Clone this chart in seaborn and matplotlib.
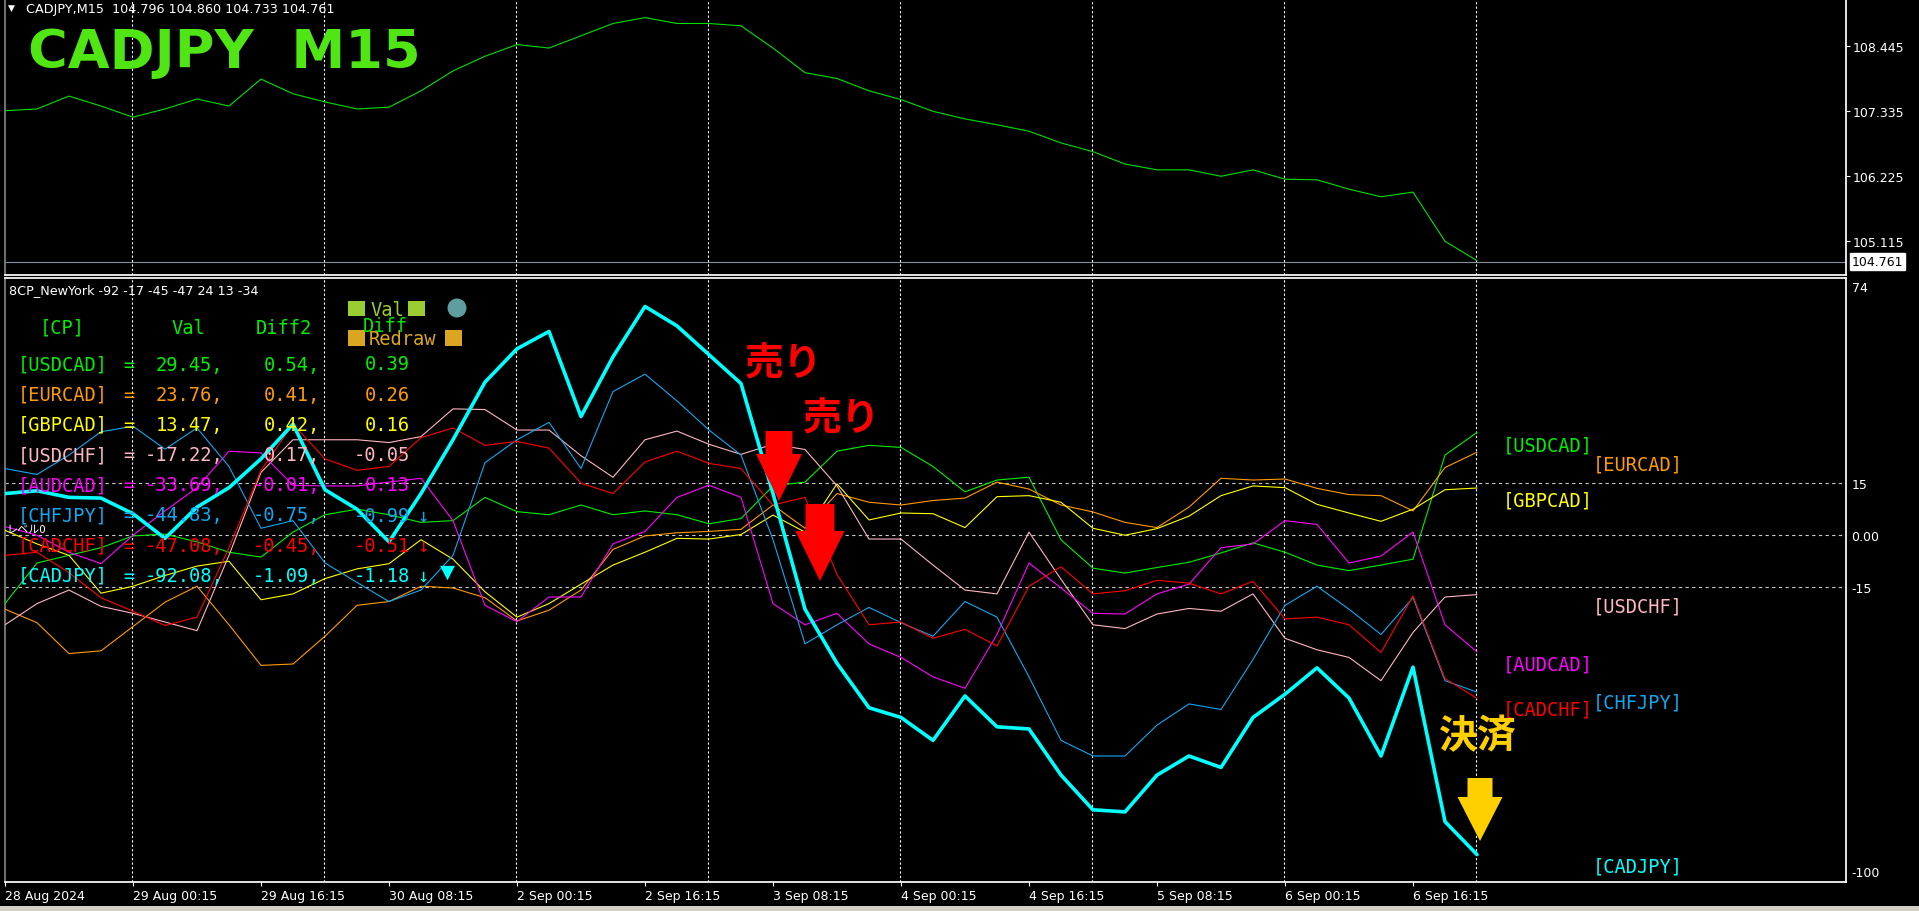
import pandas as pd
import seaborn as sns
import matplotlib.pyplot as plt
from matplotlib.patches import Polygon, Rectangle, Ellipse

W, H = 1919, 912

# M15 bars, one sample every 16 bars (4 hours)
bars = list(range(0, 737, 16))

price = [107.34, 107.37, 107.59, 107.42, 107.23, 107.37, 107.54, 107.42, 107.88, 107.63,
         107.49, 107.37, 107.40, 107.68, 108.02, 108.27, 108.47, 108.41, 108.62, 108.83,
         108.93, 108.83, 108.83, 108.79, 108.41, 107.99, 107.89, 107.68, 107.53, 107.33,
         107.20, 107.10, 106.99, 106.79, 106.64, 106.43, 106.33, 106.33, 106.22, 106.33,
         106.17, 106.16, 106.00, 105.87, 105.95, 105.11, 104.78]

usdcad = [-19.8, -8.1, -5.9, -3.7, -0.3, 0.2, -2.0, -5.0, -6.4, 0.8, 5.8, 7.4, 5.8, 3.6, 4.1, 10.8,
          6.7, 5.8, 8.6, 5.8, 6.9, 5.8, 3.2, 4.7, 14.1, 15.2, 24.1, 25.8, 25.2, 19.7, 12.4,
          15.8, 16.6, -1.4, -9.6, -11.0, -9.4, -7.9, -5.2, -2.3, -5.0, -8.7, -10.3, -8.7, -7.0, 23.0, 29.5]
eurcad = [-21.4, -25.3, -34.2, -33.4, -26.4, -19.4, -14.8, -25.9, -37.6, -37.2, -29.2, -20.3, -19.2, -14.8, -15.3, -18.1,
          -24.8, -21.7, -15.9, -4.2, -0.3, 0.6, 1.0, 1.6, 8.6, 1.9, 11.9, 9.4, 8.6, 9.9, 10.6,
          15.2, 13.2, 8.6, 6.6, 3.6, 2.1, 8.0, 16.3, 15.8, 16.1, 13.4, 11.6, 11.3, 6.9, 19.4, 23.8]
gbpcad = [1.3, -2.6, -5.9, -16.8, -14.8, -11.7, -9.0, -7.6, -18.7, -17.0, -12.6, -9.8, -8.3, -1.4, -7.0, -16.4,
          -23.7, -19.8, -14.2, -8.7, -5.0, -1.0, -1.2, 0.1, 5.7, 0.8, 14.7, 4.3, 6.3, 6.1, 2.1,
          11.0, 11.3, 9.4, 1.9, -0.1, 1.8, 5.4, 11.3, 14.1, 13.6, 8.8, 6.3, 3.9, 7.4, 13.0, 13.5]
usdchf = [-25.9, -19.8, -15.9, -20.6, -22.6, -25.1, -27.6, -5.9, 18.0, 27.4, 27.4, 27.4, 26.6, 28.3, 36.3, 36.1,
          30.2, 30.2, 22.8, 16.6, 27.4, 29.9, 26.1, 23.2, 26.1, 24.6, 14.1, -1.2, -1.2, -8.7, -15.9,
          -17.0, 0.8, -12.8, -25.9, -27.0, -22.8, -21.2, -22.0, -17.0, -29.8, -33.1, -35.3, -42.0, -28.1, -17.9, -17.2]
audcad = [2.4, -0.1, -5.0, -8.3, -0.1, 6.9, 13.6, 24.1, 23.6, 14.3, 14.1, 14.1, 15.2, 16.3, 4.1, -20.3,
          -25.0, -17.9, -17.9, -2.6, 1.0, 10.8, 14.3, 10.8, -19.8, -25.9, -22.6, -31.4, -35.3, -40.9, -44.2,
          -28.7, -8.1, -15.3, -22.6, -22.8, -17.0, -14.2, -3.7, -2.6, 4.1, 3.0, -8.1, -6.1, 0.8, -25.9, -33.7]
chfjpy = [19.1, 17.4, 23.0, 29.7, 31.3, 24.7, 30.8, 19.7, 1.9, 4.1, -8.1, -13.7, -19.2, -15.9, -5.9, 20.8,
          27.4, 32.4, 19.1, 41.3, 46.3, 38.6, 30.2, 23.0, -1.4, -31.4, -25.9, -20.9, -25.3, -29.2, -19.2,
          -23.7, -40.9, -59.2, -63.7, -63.7, -54.8, -48.7, -50.3, -35.9, -20.3, -14.8, -21.4, -28.7, -18.1, -42.0, -45.3]
cadchf = [-5.9, -5.0, -10.9, -18.1, -22.0, -26.1, -23.7, -3.7, 18.6, 31.9, 21.9, 18.6, 19.7, 28.0, 30.8, 25.8,
          26.9, 25.0, 14.9, 11.9, 21.0, 24.1, 20.6, 19.1, 8.6, 10.8, -11.4, -25.9, -25.1, -29.8, -27.2,
          -32.0, -14.8, -9.2, -17.0, -16.1, -13.1, -13.9, -17.0, -13.4, -24.2, -23.7, -25.9, -33.9, -17.6, -41.4, -47.1]
cadjpy = [11.9, 12.7, 10.8, 10.6, 6.1, -1.0, 8.0, 13.6, 21.9, 31.9, 13.0, 7.4, -2.0, 11.9, 27.4, 44.0,
          53.6, 58.6, 34.1, 51.3, 65.8, 60.2, 51.9, 43.6, 11.9, -21.4, -37.0, -49.8, -52.6, -59.2, -46.4,
          -55.3, -55.9, -69.2, -79.2, -79.8, -69.2, -63.7, -67.0, -52.6, -45.9, -38.3, -47.0, -63.7, -38.1, -82.6, -92.1]

pairs = ["USDCAD", "EURCAD", "GBPCAD", "USDCHF", "AUDCAD", "CHFJPY", "CADCHF", "CADJPY"]
colors = ["#00EE00", "#FF9A00", "#FFFF00", "#FFB6C1", "#FF00FF", "#10A8F0", "#FF0000", "#00FFFF"]
last_val = [29.45, 23.76, 13.47, -17.22, -33.69, -44.83, -47.08, -92.08]
diff2 = [0.54, 0.41, 0.42, 0.17, -0.01, -0.75, -0.45, -1.09]
diff = [0.39, 0.26, 0.16, -0.05, 0.13, -0.99, -0.51, -1.18]
trend = ["", "", "", "", "", "↓", "↓", "↓"]

time_labels = ["28 Aug 2024", "29 Aug 00:15", "29 Aug 16:15", "30 Aug 08:15", "2 Sep 00:15", "2 Sep 16:15",
               "3 Sep 08:15", "4 Sep 00:15", "4 Sep 16:15", "5 Sep 08:15", "6 Sep 00:15", "6 Sep 16:15"]
price_ticks = [105.115, 106.225, 107.335, 108.445]
last_price = 104.761

df = pd.DataFrame({"bar": bars, "price": price, "USDCAD": usdcad, "EURCAD": eurcad, "GBPCAD": gbpcad,
                   "USDCHF": usdchf, "AUDCAD": audcad, "CHFJPY": chfjpy, "CADCHF": cadchf, "CADJPY": cadjpy})

sns.set_theme(style="dark")
plt.rcParams['font.family'] = ['DejaVu Sans', 'Noto Sans CJK JP']
plt.rcParams['axes.facecolor'] = 'black'
plt.rcParams['figure.facecolor'] = 'black'

fig = plt.figure(figsize=(W / 100, H / 100), dpi=100)


def fx(x):
    return x / W


def fy(y):
    return 1 - y / H


ax1 = fig.add_axes([fx(5), fy(276), (1846 - 5) / W, 276 / H])
ax2 = fig.add_axes([fx(5), fy(883), (1846 - 5) / W, (883 - 279) / H])
xmax = (1846 - 5) / 2

for ax in (ax1, ax2):
    ax.set_facecolor('black')
    ax.set_xlim(0, xmax)
    for b in [63.3 + 96 * k for k in range(8)]:
        ax.axvline(b, color='white', lw=0.8, ls=(0, (2, 2)), zorder=1)
    ax.spines['right'].set_color('white')
    ax.spines['bottom'].set_color('white')
    ax.spines['left'].set_color('#808080')
    ax.spines['top'].set_visible(False)
    ax.grid(False)
ax2.spines['top'].set_visible(True)
ax2.spines['top'].set_color('white')

# price panel
sns.lineplot(data=df, x="bar", y="price", ax=ax1, color="#00E000", linewidth=0.8, legend=False)
ax1.axhline(last_price, color='#8090A0', lw=0.8)
ax1.set_ylim(104.534, 109.248)
ax1.yaxis.tick_right()
ax1.set_yticks(price_ticks)
ax1.set_yticklabels([f"{p:.3f}" for p in price_ticks])
ax1.tick_params(axis='y', colors='white', labelsize=9, length=3, width=0.8, pad=2)
ax1.set_xticks([])
ax1.set_xlabel('')
ax1.set_ylabel('')
ax1.annotate(f"{last_price:.3f}", xy=(1.0, last_price), xycoords=('axes fraction', 'data'),
             xytext=(4, 0), textcoords='offset points', va='center', ha='left', fontsize=9,
             color='black', bbox=dict(boxstyle='square,pad=0.15', fc='white', ec='white'),
             annotation_clip=False)

# indicator panel
for lv in (15, 0, -15):
    ax2.axhline(lv, color='#C8C8C8', lw=0.8, ls=(0, (3, 3)), zorder=1)
for name, col in zip(pairs, colors):
    sns.lineplot(data=df, x="bar", y=name, ax=ax2, color=col,
                 linewidth=2.6 if name == "CADJPY" else 0.8, legend=False, zorder=3)
ax2.set_ylim(-100, 74)
ax2.yaxis.tick_right()
ax2.set_yticks([15, 0, -15])
ax2.set_yticklabels(["15", "0.00", "-15"])
ax2.tick_params(axis='y', colors='white', labelsize=9, length=0, pad=4)
ax2.set_xticks(list(range(0, 705, 64)))
ax2.set_xticklabels(time_labels)
for lab in ax2.get_xticklabels():
    lab.set_ha('left')
ax2.tick_params(axis='x', colors='white', labelsize=9, length=3, width=0.8, pad=2, bottom=True)
ax2.set_xlabel('')
ax2.set_ylabel('')
for val, dy in ((74, -7), (-100, 7)):
    ax2.annotate(str(val), xy=(1.0, val), xycoords=('axes fraction', 'data'), xytext=(4, dy),
                 textcoords='offset points', va='center', ha='left', fontsize=9, color='white',
                 annotation_clip=False)

# headers
fig.text(fx(8), fy(8), "▼", color='white', fontsize=6.5, va='center')
fig.text(fx(26), fy(9), f"CADJPY,M15  104.796 104.860 104.733 {last_price:.3f}", color='white',
         fontsize=9.2, va='center')
fig.text(fx(28), fy(53), "CADJPY  M15", color='#50E614', fontsize=39, fontweight='bold', va='center')
fig.text(fx(9), fy(291), "8CP_NewYork -92 -17 -45 -47 24 13 -34", color='white', fontsize=9.2, va='center')
fig.text(fx(7), fy(530), "レベル0", color='white', fontsize=8, va='center',
         family=['Noto Sans CJK JP', 'DejaVu Sans'])

# table
mono = dict(family='DejaVu Sans Mono', fontsize=13.5, va='center')
fig.text(fx(62), fy(328), "[CP]", color='#00EE00', ha='center', **mono)
fig.text(fx(188), fy(328), "Val", color='#00EE00', ha='center', **mono)
fig.text(fx(284), fy(328), "Diff2", color='#00EE00', ha='center', **mono)
for i, (p, c) in enumerate(zip(pairs, colors)):
    ry = 365 + 30.2 * i
    fig.text(fx(18), fy(ry), f"[{p}]", color=c, ha='left', **mono)
    fig.text(fx(129), fy(ry), "=", color=c, ha='center', **mono)
    fig.text(fx(223), fy(ry), f"{last_val[i]:.2f},", color=c, ha='right', **mono)
    fig.text(fx(320), fy(ry), f"{diff2[i]:.2f},", color=c, ha='right', **mono)
    fig.text(fx(410), fy(ry), f"{diff[i]:.2f}", color=c, ha='right', **mono)
    if trend[i]:
        fig.text(fx(423), fy(ry), trend[i], color=c, ha='center', **mono)
fig.text(fx(447), fy(572), "▼", color='#00FFFF', ha='center', fontsize=14, va='center')

# buttons
for x0, y0, w, h, c in [(348, 302, 17, 15, '#9ACD32'), (408, 302, 17, 15, '#9ACD32'),
                        (348, 331, 17, 16, '#DAA520'), (445, 331, 17, 16, '#DAA520')]:
    fig.add_artist(Rectangle((fx(x0), fy(y0 + h)), w / W, h / H, transform=fig.transFigure,
                             fc=c, ec='none'))
fig.add_artist(Ellipse((fx(457), fy(309)), 19 / W, 19 / H, transform=fig.transFigure, fc='#5F9EA0', ec='none'))
fig.text(fx(370), fy(310), "Val", color='#9ACD32', ha='left', **mono)
fig.text(fx(363), fy(327), "Diff", color='#00E600', ha='left', **mono)
fig.text(fx(369), fy(340), "Redraw", color='#DAA520', ha='left', **mono)

# right side pair labels
label_pos = {"USDCAD": (1503, 446), "EURCAD": (1593, 465), "GBPCAD": (1503, 501), "USDCHF": (1593, 607),
             "AUDCAD": (1503, 665), "CHFJPY": (1593, 703), "CADCHF": (1503, 710), "CADJPY": (1593, 867)}
for p, c in zip(pairs, colors):
    lx, ly = label_pos[p]
    fig.text(fx(lx), fy(ly), f"[{p}]", color=c, ha='left', **mono)


# trade marks
def arrow(xc, y_top, y_neck, y_tip, sh, hh, color):
    pts = [(xc - sh, y_top), (xc + sh, y_top), (xc + sh, y_neck), (xc + hh, y_neck), (xc, y_tip),
           (xc - hh, y_neck), (xc - sh, y_neck)]
    fig.add_artist(Polygon([(fx(a), fy(b)) for a, b in pts], closed=True, transform=fig.transFigure,
                           fc=color, ec='none', zorder=5))


cjk = dict(family=['Noto Sans CJK JP'], fontweight='bold', fontsize=28, ha='center', va='center')
fig.text(fx(784), fy(364), "売り", color='#FF0000', **cjk)
fig.text(fx(842), fy(419), "売り", color='#FF0000', **cjk)
fig.text(fx(1478), fy(737), "決済", color='#FFD000', **cjk)
arrow(779, 432, 455, 502, 13.5, 23, '#FF0000')
arrow(820, 505, 532, 582, 14.5, 24.5, '#FF0000')
arrow(1480, 779, 798, 842, 12.5, 22.5, '#FFD000')

fig.add_artist(Rectangle((0, 0), 1, 5 / H, transform=fig.transFigure, fc='#D4D0C8', ec='none'))

fig.savefig("out.png", dpi=100, facecolor='black')
